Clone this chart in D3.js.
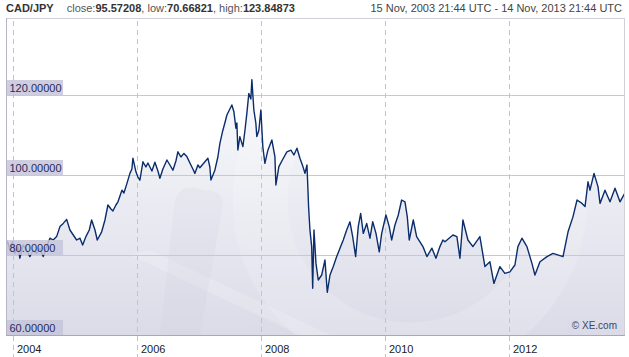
<!DOCTYPE html>
<html>
<head>
<meta charset="utf-8">
<script src="https://cdn.jsdelivr.net/npm/d3@7"></script>
<style>
  body { margin: 0; background: #fff; }
  svg { display: block; font-family: "Liberation Sans", Arial, sans-serif; }
</style>
</head>
<body>
<div id="chart"></div>
<script>
// dates as decimal years
const years = [
  2003.874, 2003.924, 2003.952, 2003.995, 2004.032, 2004.085, 2004.113, 2004.166, 2004.221, 2004.274,
  2004.327, 2004.382, 2004.435, 2004.489, 2004.544, 2004.597, 2004.650, 2004.705, 2004.758, 2004.811,
  2004.866, 2004.919, 2004.973, 2005.027, 2005.081, 2005.124, 2005.177, 2005.231, 2005.269, 2005.323,
  2005.360, 2005.431, 2005.484, 2005.532, 2005.581, 2005.613, 2005.661, 2005.694, 2005.758, 2005.790,
  2005.839, 2005.887, 2005.919, 2005.935, 2005.984, 2006.016, 2006.048, 2006.097, 2006.145, 2006.177,
  2006.242, 2006.290, 2006.339, 2006.371, 2006.419, 2006.484, 2006.532, 2006.581, 2006.629, 2006.661,
  2006.710, 2006.758, 2006.806, 2006.855, 2006.903, 2006.935, 2006.984, 2007.016, 2007.097, 2007.145,
  2007.177, 2007.194, 2007.258, 2007.306, 2007.339, 2007.387, 2007.419, 2007.452, 2007.484, 2007.532,
  2007.565, 2007.597, 2007.613, 2007.629, 2007.661, 2007.710, 2007.742, 2007.774, 2007.806, 2007.839,
  2007.855, 2007.887, 2007.919, 2007.935, 2007.968, 2008.000, 2008.032, 2008.065, 2008.113, 2008.177,
  2008.226, 2008.242, 2008.290, 2008.355, 2008.419, 2008.484, 2008.532, 2008.581, 2008.629, 2008.677,
  2008.710, 2008.742, 2008.758, 2008.768, 2008.790, 2008.818, 2008.834, 2008.855, 2008.887, 2008.924,
  2008.979, 2009.032, 2009.069, 2009.113, 2009.166, 2009.221, 2009.274, 2009.327, 2009.382, 2009.435,
  2009.479, 2009.527, 2009.569, 2009.608, 2009.650, 2009.705, 2009.758, 2009.802, 2009.855, 2009.908,
  2009.947, 2010.016, 2010.069, 2010.108, 2010.161, 2010.215, 2010.269, 2010.323, 2010.360, 2010.392,
  2010.457, 2010.511, 2010.613, 2010.677, 2010.758, 2010.823, 2010.887, 2010.935, 2010.968, 2011.097,
  2011.161, 2011.210, 2011.258, 2011.339, 2011.419, 2011.532, 2011.613, 2011.694, 2011.758, 2011.855,
  2011.935, 2012.016, 2012.097, 2012.145, 2012.210, 2012.290, 2012.371, 2012.419, 2012.500, 2012.613,
  2012.710, 2012.871, 2012.952, 2013.032, 2013.097, 2013.177, 2013.226, 2013.274, 2013.306, 2013.371,
  2013.435, 2013.468, 2013.548, 2013.629, 2013.710, 2013.790, 2013.871
];

// CAD/JPY rate at each date
const rates = [
  84.2, 82.9, 81.25, 83.3, 80.4, 82.1, 79.2, 82.5, 81.25, 79.6,
  81.25, 80.4, 81.7, 79.6, 82.1, 84.2, 83.75, 84.6, 87.1, 87.9,
  88.9, 86.25, 85.0, 83.75, 84.2, 82.5, 84.6, 86.25, 88.75, 86.25,
  83.75, 85.8, 88.75, 92.5, 91.5, 91.0, 92.5, 93.3, 96.2, 95.5,
  97.9, 100.4, 101.5, 104.2, 100.8, 99.5, 98.7, 103.3, 102.0, 103.0,
  101.0, 103.2, 101.0, 99.2, 101.5, 103.75, 102.5, 101.2, 103.5, 105.8,
  104.5, 105.4, 104.6, 103.0, 101.5, 100.4, 102.5, 101.8, 103.3, 104.2,
  102.0, 98.75, 101.2, 104.5, 107.9, 111.2, 113.0, 115.0, 116.0, 117.5,
  115.8, 111.7, 113.0, 106.25, 109.6, 107.1, 111.0, 115.4, 120.4, 119.0,
  123.85, 116.25, 113.0, 109.6, 111.2, 116.25, 107.0, 102.9, 106.2, 108.75,
  104.6, 97.5, 102.1, 104.0, 105.8, 106.2, 105.0, 106.7, 104.2, 102.1,
  100.4, 102.5, 96.25, 92.1, 86.25, 82.1, 71.7, 86.25, 77.9, 73.75,
  75.0, 78.75, 70.67, 75.0, 77.1, 79.6, 81.7, 83.75, 86.25, 88.3,
  84.6, 79.6, 87.1, 90.4, 85.4, 87.9, 84.2, 88.3, 85.4, 80.8,
  85.4, 90.0, 87.1, 83.75, 87.5, 90.0, 93.75, 93.3, 89.6, 83.75,
  88.75, 84.6, 82.1, 79.6, 81.7, 79.2, 82.1, 83.75, 83.3, 85.0,
  84.6, 79.2, 88.75, 83.75, 82.1, 84.6, 77.1, 78.3, 72.9, 77.1,
  75.4, 75.8, 77.5, 82.1, 84.2, 82.1, 77.9, 75.0, 78.3, 79.6,
  80.4, 79.6, 85.8, 89.6, 93.75, 92.9, 92.1, 98.3, 96.2, 100.4,
  97.1, 92.9, 96.2, 93.3, 96.7, 93.3, 95.57
];

const yTicks = [60, 80, 100, 120];
const xTickYears = [2004, 2006, 2008, 2010, 2012];
const pairName = "CAD/JPY";
const stats = [["close:", "95.57208"], ["low:", "70.66821"], ["high:", "123.84873"]];
const rangeText = "15 Nov, 2003 21:44 UTC - 14 Nov, 2013 21:44 UTC";

const svgWidth = 629;
const svgHeight = 357;
const plot = { left: 6, right: 625, top: 18, bottom: 335 };

function yearToDate(t) {
  const y = Math.floor(t);
  const a = Date.UTC(y, 0, 1), b = Date.UTC(y + 1, 0, 1);
  return new Date(a + (t - y) * (b - a));
}

const data = years.map((t, i) => ({ date: yearToDate(t), value: rates[i] }));

const svg = d3.select("#chart")
  .append("svg")
  .attr("width", svgWidth)
  .attr("height", svgHeight);

const xScale = d3.scaleTime()
  .domain([new Date(Date.UTC(2003, 10, 15, 21, 44)), new Date(Date.UTC(2013, 10, 14, 21, 44))])
  .range([5, 625]);

const yScale = d3.scaleLinear()
  .domain([60, 60 + (plot.bottom - plot.top) / 4])
  .range([plot.bottom, plot.top]);

const defs = svg.append("defs");
const areaGrad = defs.append("linearGradient")
  .attr("id", "areaGrad")
  .attr("gradientUnits", "userSpaceOnUse")
  .attr("x1", 0).attr("y1", 80).attr("x2", 0).attr("y2", plot.bottom);
areaGrad.append("stop").attr("offset", 0).attr("stop-color", "#fafbfd");
areaGrad.append("stop").attr("offset", 1).attr("stop-color", "#dadbe7");

defs.append("clipPath").attr("id", "plotClip")
  .append("rect")
  .attr("x", plot.left).attr("y", plot.top)
  .attr("width", plot.right - plot.left).attr("height", plot.bottom - plot.top);

// plot background
svg.append("rect")
  .attr("x", plot.left).attr("y", plot.top)
  .attr("width", plot.right - plot.left).attr("height", plot.bottom - plot.top)
  .attr("fill", "#fff");

const area = d3.area()
  .x(d => xScale(d.date))
  .y0(plot.bottom)
  .y1(d => yScale(d.value));

svg.append("path")
  .datum(data)
  .attr("clip-path", "url(#plotClip)")
  .attr("fill", "url(#areaGrad)")
  .attr("d", area);

// faint XE watermark
const mark = svg.append("g").attr("clip-path", "url(#plotClip)");
mark.append("circle")
  .attr("cx", 410).attr("cy", 200).attr("r", 150)
  .attr("fill", "none")
  .attr("stroke", "#ffffff").attr("stroke-opacity", 0.16)
  .attr("stroke-width", 55);
mark.append("path")
  .attr("d", "M150,250 L330,335 L300,335 L130,255 Z")
  .attr("fill", "#ffffff").attr("fill-opacity", 0.18);
mark.append("path")
  .attr("d", "M175,200 Q180,185 195,188 L215,192 Q225,195 222,210 L200,335 L160,335 Z")
  .attr("fill", "#c8c9d8").attr("fill-opacity", 0.15);

// horizontal gridlines
svg.append("g")
  .selectAll("line")
  .data(yTicks.filter(v => v > 60))
  .enter()
  .append("line")
  .attr("x1", plot.left).attr("x2", plot.right)
  .attr("y1", d => yScale(d) + 0.5).attr("y2", d => yScale(d) + 0.5)
  .attr("stroke", "#c9c9cc");

// vertical dashed year lines
const xTicks = xTickYears.map(y => new Date(Date.UTC(y, 0, 1)));
svg.append("g")
  .selectAll("line")
  .data(xTicks)
  .enter()
  .append("line")
  .attr("x1", d => Math.round(xScale(d)) + 0.5).attr("x2", d => Math.round(xScale(d)) + 0.5)
  .attr("y1", plot.top + 3).attr("y2", svgHeight)
  .attr("stroke", "#c4c4c8")
  .attr("stroke-dasharray", "5,4");

// the rate line
const line = d3.line()
  .x(d => xScale(d.date))
  .y(d => yScale(d.value));

svg.append("path")
  .datum(data)
  .attr("clip-path", "url(#plotClip)")
  .attr("fill", "none")
  .attr("stroke", "#0b2d6c")
  .attr("stroke-width", 1.4)
  .attr("stroke-linejoin", "round")
  .attr("d", line);

// plot frame
svg.append("rect")
  .attr("x", plot.left + 0.5).attr("y", plot.top + 0.5)
  .attr("width", plot.right - plot.left - 1).attr("height", plot.bottom - plot.top)
  .attr("fill", "none")
  .attr("stroke", "#cfd0d8");
svg.append("line")
  .attr("x1", plot.left).attr("x2", plot.right)
  .attr("y1", plot.bottom + 0.5).attr("y2", plot.bottom + 0.5)
  .attr("stroke", "#a9a9b4");
svg.append("line")
  .attr("x1", plot.left + 0.5).attr("x2", plot.left + 0.5)
  .attr("y1", plot.top).attr("y2", plot.bottom)
  .attr("stroke", "#b4b5c6");

// y labels in boxes
const yLabels = svg.append("g")
  .selectAll("g")
  .data(yTicks)
  .enter()
  .append("g")
  .attr("transform", d => `translate(${plot.left + 1}, ${yScale(d) - 15})`);
yLabels.append("rect")
  .attr("width", 56).attr("height", 15)
  .attr("fill", "#c5c6da").attr("fill-opacity", 0.85);
yLabels.append("text")
  .attr("x", 2.5).attr("y", 12)
  .attr("font-size", 11)
  .attr("fill", "#28295c")
  .text(d => d3.format(".5f")(d));

// x labels
svg.append("g")
  .selectAll("text")
  .data(xTicks)
  .enter()
  .append("text")
  .attr("x", d => Math.round(xScale(d)) + 4)
  .attr("y", 353)
  .attr("font-size", 11)
  .attr("fill", "#222")
  .text(d => d.getUTCFullYear());

// header
const head = svg.append("text")
  .attr("x", 6).attr("y", 12)
  .attr("font-size", 11);
head.append("tspan")
  .attr("font-weight", "bold").attr("fill", "#333")
  .text(pairName);
stats.forEach((s, i) => {
  head.append("tspan")
    .attr("dx", i === 0 ? 13 : 0)
    .attr("fill", "#555")
    .text((i === 0 ? "" : ", ") + s[0]);
  head.append("tspan")
    .attr("font-weight", "bold").attr("fill", "#333")
    .text(s[1]);
});

svg.append("text")
  .attr("x", 622).attr("y", 12)
  .attr("text-anchor", "end")
  .attr("font-size", 11)
  .attr("fill", "#444")
  .text(rangeText);

svg.append("text")
  .attr("x", 617).attr("y", 329)
  .attr("text-anchor", "end")
  .attr("font-size", 10)
  .attr("fill", "#3b4766")
  .text("\u00a9 XE.com");
</script>
</body>
</html>
